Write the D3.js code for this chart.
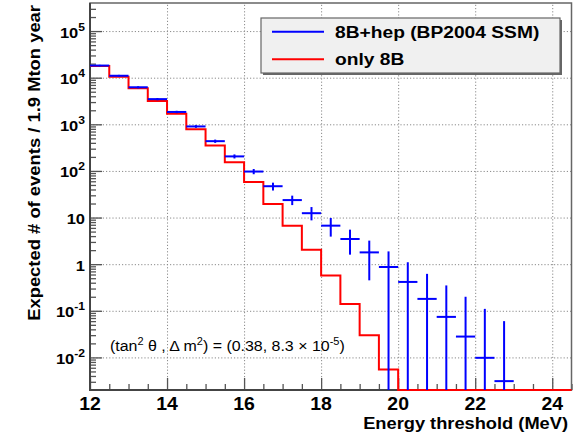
<!DOCTYPE html>
<html>
<head>
<meta charset="utf-8">
<script src="https://cdn.jsdelivr.net/npm/d3@7"></script>
<style>
body { margin:0; background:#fff; }
text { font-family: "Liberation Sans", Arial, Helvetica, sans-serif; fill:#000; }
.grid line { stroke:#8a8a8a; stroke-dasharray:1.2,2; stroke-width:1; }
.grid path { display:none; }
.ax path { display:none; }
.ax line { stroke:#555; stroke-width:1.3; }
</style>
</head>
<body>
<div id="chart"></div>
<script>
// lower edges of the 0.5 MeV threshold bins
var binLow = [12,12.5,13,13.5,14,14.5,15,15.5,16,16.5,17,17.5,18,18.5,19,19.5,20,20.5,21,21.5,22,22.5,23,23.5,24]
var binWidth = 0.5

// 8B+hep (blue points), with the ends of the error bars
var hepVal = [18200,11000,6230,3470,1840,900,435,205,97,47,23.7,12.4,6.7,3.47,1.79,0.87,0.416,0.18,0.074,0.028,0.0098,0.0031]
var hepLo  = [17500,10500,5900,3280,1730,840,400,185,85,38,18.5,8.7,3.9,1.6,0.45,0,0,0,0,0,0,0]
var hepHi  = [18900,11500,6550,3670,1950,960,470,226,110,56,29.5,16.8,9.8,5.5,3.2,1.88,1.1,0.62,0.35,0.2,0.11,0.06]

// only 8B (red histogram)
var b8Val = [17800,10500,5930,3170,1690,785,350,154,58,19.5,6.7,2.04,0.57,0.14,0.030,0.0055,0,0,0,0,0,0,0,0,0]

var xTicks = [12,14,16,18,20,22,24]
var xMinor = [12.5,13,13.5,14.5,15,15.5,16.5,17,17.5,18.5,19,19.5,20.5,21,21.5,22.5,23,23.5,24.5]
var yTicks = [1e-2,1e-1,1,10,1e2,1e3,1e4,1e5]
var yBase = ["10","10","1","10","10","10","10","10"]
var yExp  = ["-2","-1","","","2","3","4","5"]

var legendNames = ["8B+hep (BP2004 SSM)","only 8B"]
var legendColors = ["#0000ff","#ff0000"]

var W = 577, H = 436
var L = 90, R = 571.5, T = 3, B = 390
var yMin = 0.002

var svg = d3.select("#chart").append("svg")
	.attr("width",W)
	.attr("height",H)

var x = d3.scaleLinear().domain([12,24.5]).range([L,R])
var y = d3.scaleLog().domain([yMin,4e5]).range([B,T])

function yc(v){ return y(Math.max(v,yMin)) }

// text is a little wider in the reference than the fonts here
function stext(parent, px, py, sx){
	return parent.append("text").attr("transform","translate("+px+","+py+") scale("+sx+",1)")
}

// grid
svg.append("g").attr("class","grid")
	.attr("transform","translate(0,"+B+")")
	.call(d3.axisBottom(x).tickValues(xTicks.slice(1)).tickSize(-(B-T)).tickFormat(""))
svg.append("g").attr("class","grid")
	.attr("transform","translate("+L+",0)")
	.call(d3.axisLeft(y).tickValues(yTicks).tickSize(-(R-L)).tickFormat(""))

// minor ticks on log axis
var yMinor = []
for(var e = -3; e <= 5; e++){
	for(var k = 2; k <= 9; k++){
		var v = k*Math.pow(10,e)
		if(v > yMin && v < 4e5) yMinor.push(v)
	}
}

svg.append("g").attr("class","ax")
	.attr("transform","translate("+L+",0)")
	.call(d3.axisLeft(y).tickValues(yMinor).tickSize(-6).tickFormat(""))
svg.append("g").attr("class","ax")
	.attr("transform","translate("+L+",0)")
	.call(d3.axisLeft(y).tickValues(yTicks).tickSize(-12).tickFormat(""))
svg.append("g").attr("class","ax")
	.attr("transform","translate(0,"+B+")")
	.call(d3.axisBottom(x).tickValues(xMinor).tickSize(-6).tickFormat(""))
svg.append("g").attr("class","ax")
	.attr("transform","translate(0,"+B+")")
	.call(d3.axisBottom(x).tickValues(xTicks).tickSize(-12).tickFormat(""))

// frame
svg.append("rect")
	.attr("x",L).attr("y",T)
	.attr("width",R-L).attr("height",B-T)
	.attr("fill","none")
	.attr("stroke","#666")
	.attr("stroke-width",1.5)
svg.append("line").attr("x1",L).attr("x2",L).attr("y1",T).attr("y2",B+1)
	.attr("stroke","#444").attr("stroke-width",2)
svg.append("line").attr("x1",L-1).attr("x2",R).attr("y1",B).attr("y2",B)
	.attr("stroke","#444").attr("stroke-width",2)

// tick labels
xTicks.forEach(function(t){
	stext(svg, x(t), 410, 1.08)
		.attr("text-anchor","middle")
		.style("font-size","18px")
		.style("font-weight","bold")
		.text(t)
})
yTicks.forEach(function(t,i){
	var tx = stext(svg, 85, y(t)+6.5, 1.1)
		.attr("text-anchor","end")
		.style("font-size","15px")
		.style("font-weight","bold")
	tx.append("tspan").text(yBase[i])
	if(yExp[i] != ""){
		tx.append("tspan").attr("dy",-7).style("font-size","11px").text(yExp[i])
	}
})

// axis titles
stext(svg, 568, 429, 1.075)
	.attr("text-anchor","end")
	.style("font-size","17px")
	.style("font-weight","bold")
	.text("Energy threshold (MeV)")
svg.append("text")
	.attr("transform","translate(40,5) rotate(-90) scale(1.15,1)")
	.attr("text-anchor","end")
	.style("font-size","16px")
	.style("font-weight","bold")
	.text("Expected # of events / 1.9 Mton year")

// only 8B histogram
var pts = []
binLow.forEach(function(b,i){
	pts.push([x(b), yc(b8Val[i])])
	pts.push([x(b+binWidth), yc(b8Val[i])])
})
svg.append("path")
	.datum(pts)
	.attr("d", d3.line())
	.attr("fill","none")
	.attr("stroke","#ff0000")
	.attr("stroke-width",2)

// 8B+hep points with error bars
var hep = svg.append("g").attr("stroke","#0000ff").attr("stroke-width",2)
hepVal.forEach(function(v,i){
	var b = binLow[i]
	hep.append("line")
		.attr("x1",x(b)).attr("x2",x(b+binWidth))
		.attr("y1",y(v)).attr("y2",y(v))
	hep.append("line")
		.attr("x1",x(b+binWidth/2)).attr("x2",x(b+binWidth/2))
		.attr("y1",yc(hepLo[i])).attr("y2",yc(hepHi[i]))
})

// legend
var lg = svg.append("g")
lg.append("rect").attr("x",263).attr("y",20).attr("width",299).attr("height",55).attr("fill","#666")
lg.append("rect").attr("x",261).attr("y",18).attr("width",299).attr("height",55)
	.attr("fill","#f0f0f0").attr("stroke","#666").attr("stroke-width",1.2)
legendNames.forEach(function(n,i){
	var ly = 31.7 + i*27.6
	lg.append("line").attr("x1",272).attr("x2",324).attr("y1",ly).attr("y2",ly)
		.attr("stroke",legendColors[i]).attr("stroke-width",2)
	stext(lg, 335, ly+6, 1.13)
		.style("font-size","17px")
		.style("font-weight","bold")
		.text(n)
})

// oscillation parameters
var ann = stext(svg, 110, 351, 1.1).style("font-size","14.5px")
ann.append("tspan").text("(tan")
ann.append("tspan").attr("dy",-6).style("font-size","10px").text("2")
ann.append("tspan").attr("dy",6).text(" θ , Δ m")
ann.append("tspan").attr("dy",-6).style("font-size","10px").text("2")
ann.append("tspan").attr("dy",6).text(") = (0.38, 8.3 × 10")
ann.append("tspan").attr("dy",-6).style("font-size","10px").text("-5")
ann.append("tspan").attr("dy",6).text(")")
</script>
</body>
</html>
